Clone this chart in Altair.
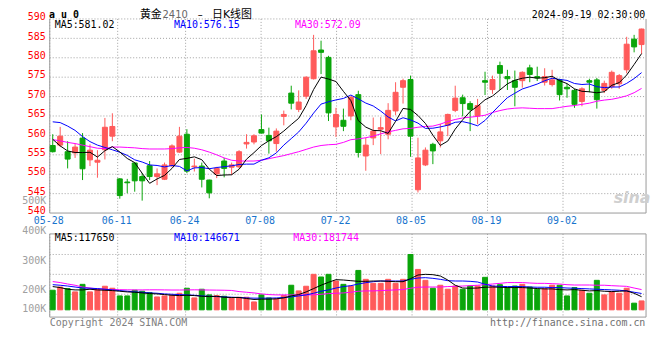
import altair as alt
import pandas as pd

# ---------------- data ----------------
opens = [557.4, 557.5, 555.8, 555.5, 559.3, 553.7, 553.1, 556.3, 559.8, 548.8,
         548.0, 552.9, 549.4, 552.2, 549.4, 548.7, 552.2, 555.7, 560.3, 551.9,
         552.1, 548.5, 550.1, 553.4, 551.8, 551.9, 557.8, 558.3, 561.5, 560.0,
         557.9, 564.9, 570.9, 566.7, 570.1, 574.6, 582.0, 580.1, 562.2, 563.9,
         565.0, 570.5, 554.7, 559.35, 561.6, 560.3, 566.3, 572.4, 574.4, 546.0,
         552.4, 557.7, 558.6, 562.6, 566.45, 569.7, 568.2, 565.0, 574.1, 571.8,
         578.0, 575.15, 574.1, 574.1, 577.4, 575.15, 573.7, 573.1, 574.3, 572.4,
         571.6, 568.75, 574.1, 574.3, 571.6, 572.6, 573.3, 576.9, 584.8, 583.4]
highs = [560.3, 562.2, 558.5, 557.9, 560.6, 557.7, 556.2, 564.5, 565.7, 549.0,
         548.8, 553.0, 550.3, 553.4, 551.5, 553.0, 557.7, 562.2, 561.6, 554.0,
         553.0, 548.6, 551.9, 554.2, 553.0, 556.2, 560.3, 560.3, 565.4, 562.0,
         561.8, 566.4, 572.8, 571.6, 575.2, 585.9, 584.4, 580.5, 567.1, 566.9,
         570.0, 571.5, 559.4, 564.6, 564.7, 568.3, 573.7, 574.6, 575.4, 559.4,
         556.9, 558.1, 563.0, 565.6, 572.8, 570.5, 568.8, 569.4, 576.4, 575.4,
         579.0, 576.9, 576.7, 576.5, 578.2, 577.7, 577.3, 576.9, 574.6, 573.3,
         572.0, 572.4, 574.6, 574.8, 574.1, 576.7, 575.8, 585.4, 585.9, 587.5]
lows = [555.6, 557.0, 551.5, 554.2, 548.5, 552.1, 549.1, 553.8, 558.5, 543.7,
        545.1, 545.5, 543.2, 548.5, 547.2, 548.5, 551.8, 555.5, 550.3, 550.7,
        546.6, 543.8, 549.0, 549.2, 549.8, 551.5, 556.6, 557.7, 560.5, 555.3,
        555.8, 562.6, 566.7, 566.0, 569.4, 574.4, 575.8, 563.7, 559.6, 561.1,
        563.9, 554.3, 550.9, 557.5, 555.2, 559.0, 565.2, 568.2, 554.5, 545.3,
        552.1, 552.6, 556.9, 559.8, 566.0, 564.9, 561.1, 562.9, 570.4, 570.7,
        571.7, 571.7, 567.5, 572.3, 573.7, 574.0, 572.85, 572.6, 569.0, 569.7,
        567.1, 567.5, 571.1, 566.9, 570.9, 572.0, 572.0, 576.0, 581.4, 581.0]
closes = [555.8, 559.8, 553.9, 557.0, 551.4, 556.2, 553.6, 562.1, 562.3, 544.5,
          547.8, 548.3, 548.3, 549.4, 550.1, 552.4, 557.3, 559.8, 550.8, 552.1,
          548.7, 545.2, 551.5, 551.5, 552.4, 555.8, 558.2, 559.9, 560.6, 558.6,
          561.1, 565.4, 568.3, 568.6, 575.0, 581.8, 581.4, 565.8, 565.4, 562.35,
          569.85, 555.6, 557.5, 561.1, 562.0, 566.45, 571.1, 574.1, 559.8, 554.2,
          556.2, 556.0, 560.9, 565.4, 569.6, 568.2, 566.7, 567.7, 573.7, 574.4,
          576.0, 574.6, 572.4, 576.25, 575.7, 574.8, 575.15, 574.3, 570.5, 572.0,
          568.0, 572.0, 573.7, 569.2, 573.4, 576.25, 575.4, 583.5, 582.8, 587.4]
ma5 = [559.0, 557.3, 556.0, 555.6, 555.58, 555.66, 554.42, 556.06, 557.12, 555.74,
       554.06, 553.0, 550.24, 547.66, 548.78, 549.7, 551.5, 553.8, 554.08, 554.48,
       553.74, 551.32, 549.66, 549.8, 549.86, 551.28, 553.88, 555.56, 557.38, 558.62,
       559.68, 561.12, 562.8, 564.4, 567.68, 571.82, 575.02, 574.52, 573.88, 571.35,
       568.96, 563.8, 562.14, 561.28, 561.21, 560.53, 563.63, 566.95, 566.69, 565.13,
       563.08, 560.06, 557.42, 558.54, 561.62, 564.02, 566.16, 567.52, 569.18, 570.14,
       571.7, 573.28, 574.22, 574.73, 574.99, 574.75, 574.86, 575.24, 574.09, 573.35,
       571.99, 571.36, 571.24, 570.98, 571.26, 572.91, 573.59, 575.55, 578.27, 581.07]
ma10 = [563.5, 563.3, 562.4, 561.3, 559.7, 558.4, 557.5, 556.9, 556.3, 555.66,
        554.86, 553.71, 553.15, 552.39, 552.26, 551.88, 552.25, 552.02, 550.87, 551.63,
        551.72, 551.41, 551.73, 551.94, 552.17, 552.51, 552.6, 552.61, 553.59, 554.24,
        555.48, 557.5, 559.18, 560.89, 563.15, 565.75, 568.07, 568.66, 569.14, 569.52,
        570.39, 569.41, 568.33, 567.58, 566.28, 564.75, 563.72, 564.55, 563.99, 563.17,
        561.81, 561.85, 562.19, 562.62, 563.38, 563.55, 563.11, 562.47, 563.86, 565.88,
        567.86, 569.72, 570.87, 571.96, 572.57, 573.23, 574.07, 574.73, 574.41, 574.17,
        573.37, 573.11, 573.24, 572.54, 572.31, 572.45, 572.48, 573.4, 574.63, 576.17]
ma30 = [558.9, 558.6, 558.2, 557.9, 557.5, 557.1, 556.7, 556.6, 557.0, 557.0,
        556.9, 556.8, 556.6, 556.5, 556.5, 556.5, 556.6, 556.8, 556.9, 556.7,
        556.3, 555.7, 555.0, 554.2, 553.6, 553.4, 553.4, 553.4, 553.6, 554.0,
        554.4, 554.8, 555.3, 555.8, 556.4, 557.0, 557.4, 557.6, 557.7, 558.2,
        558.9, 559.1, 559.4, 559.8, 560.4, 560.9, 561.3, 561.7, 561.8, 562.1,
        562.3, 562.4, 562.9, 563.6, 564.1, 564.5, 564.7, 564.9, 565.2, 565.9,
        566.4, 566.8, 567.0, 567.1, 567.0, 566.9, 566.9, 566.9, 567.2, 567.5,
        567.7, 568.0, 568.3, 568.8, 569.1, 569.3, 569.7, 570.2, 571.0, 572.1]
volumes = [176000, 205000, 191000, 161000, 229000, 161000, 185000, 212000, 194000, 125000,
           125000, 176000, 167000, 155000, 116000, 125000, 131000, 149000, 194000, 107000,
           185000, 134000, 128000, 122000, 107000, 113000, 113000, 71000, 134000, 107000,
           98000, 128000, 221000, 170000, 212000, 319000, 295000, 319000, 259000, 229000,
           214000, 354000, 274000, 238000, 238000, 274000, 238000, 274000, 497000, 363000,
           265000, 194000, 221000, 185000, 214000, 185000, 214000, 214000, 292000, 214000,
           226000, 200000, 214000, 229000, 205000, 185000, 191000, 221000, 221000, 125000,
           200000, 176000, 149000, 265000, 134000, 161000, 149000, 194000, 60000, 80000]
vma5 = [209000, 200000, 185000, 179000, 179000, 185000, 179000, 176000, 173000, 167000,
        161000, 158000, 152000, 146000, 143000, 137000, 131000, 128000, 131000, 128000,
        122000, 119000, 122000, 113000, 111000, 111000, 102000, 93000, 96000, 96000,
        99000, 107000, 125000, 137000, 161000, 191000, 221000, 247000, 271000, 268000,
        262000, 256000, 256000, 259000, 259000, 256000, 253000, 253000, 280000, 313000,
        319000, 316000, 304000, 268000, 221000, 196000, 194000, 196000, 203000, 205000,
        203000, 200000, 200000, 200000, 196000, 191000, 188000, 188000, 182000, 179000,
        182000, 176000, 170000, 173000, 167000, 164000, 167000, 170000, 149000, 118000]
vma10 = [226000, 221000, 214000, 205000, 196000, 194000, 191000, 185000, 179000, 173000,
         167000, 161000, 158000, 152000, 149000, 143000, 140000, 137000, 134000, 131000,
         125000, 122000, 119000, 116000, 113000, 111000, 107000, 105000, 105000, 105000,
         107000, 111000, 116000, 125000, 134000, 149000, 167000, 179000, 196000, 209000,
         217000, 232000, 244000, 253000, 259000, 259000, 259000, 259000, 274000, 286000,
         289000, 283000, 274000, 262000, 259000, 259000, 256000, 250000, 230000, 214000,
         211000, 209000, 209000, 209000, 205000, 203000, 203000, 200000, 200000, 196000,
         194000, 191000, 188000, 185000, 182000, 179000, 176000, 170000, 158000, 147000]
vma30 = [254000, 245000, 232000, 221000, 205000, 196000, 188000, 185000, 182000, 181000,
         180000, 179000, 179000, 180000, 180000, 179000, 178000, 178000, 179000, 180000,
         179000, 178000, 177000, 176000, 174000, 164000, 158000, 152000, 143000, 137000,
         134000, 134000, 134000, 134000, 134000, 135000, 140000, 146000, 149000, 152000,
         158000, 167000, 170000, 170000, 173000, 176000, 179000, 182000, 194000, 203000,
         205000, 205000, 205000, 209000, 211000, 214000, 217000, 221000, 226000, 232000,
         238000, 245000, 245000, 245000, 241000, 238000, 238000, 235000, 232000, 226000,
         223000, 223000, 223000, 221000, 221000, 217000, 214000, 211000, 196000, 182000]

tick_labels = ["05-28", "06-11", "06-24", "07-08", "07-22", "08-05", "08-19", "09-02"]
tick_index = [0, 9, 18, 28, 38, 48, 58, 68]
price_ticks = [540, 545, 550, 555, 560, 565, 570, 575, 580, 585, 590]
vol_tick_labels = ["500K", "400K", "300K", "200K", "100K"]

N = len(closes)
for arr in (opens, highs, lows, ma5, ma10, ma30, volumes, vma5, vma10, vma30):
    assert len(arr) == N, len(arr)

# ---------------- geometry / style ----------------
W, H = 600, 300
PRICE_BOTTOM = 195.3
VOL_TOP = 216.3
X_DOM = [-0.4, 79.6]
P_DOM = [513.2, 590.0]
V_DOM = [-65200, 2613400]
RED, GREEN = "#ff5a5a", "#0aa50a"
GRID, FRAME = "#a0a0a0", "#9a9a9a"
MONO = "DejaVu Sans Mono"
CJK = "DejaVu Sans, Noto Sans CJK SC"
HEAD_Y = -4.3

df = pd.DataFrame({
    "i": list(range(N)), "open": opens, "high": highs, "low": lows, "close": closes,
    "ma5": ma5, "ma10": ma10, "ma30": ma30,
    "vol": volumes, "vma5": vma5, "vma10": vma10, "vma30": vma30,
})
df["dir"] = ["up" if c >= o else "down" for o, c in zip(opens, closes)]

px_per_idx = W / (X_DOM[1] - X_DOM[0])
grid_step = W / (N - 1)
tick_df = pd.DataFrame({
    "label": tick_labels,
    "g": [X_DOM[0] + k * grid_step / px_per_idx for k in tick_index],
})

xs = alt.Scale(domain=X_DOM, nice=False, zero=False)
ps = alt.Scale(domain=P_DOM, nice=False, zero=False)
vs = alt.Scale(domain=V_DOM, nice=False, zero=False)
cs = alt.Scale(domain=["up", "down"], range=[RED, GREEN])

one = alt.Data(values=[{"k": 0}])


def hline(y, dashed=False, x1=0, x2=W):
    kw = dict(strokeWidth=1, color=GRID if dashed else FRAME)
    if dashed:
        kw["strokeDash"] = [1, 2]
    return alt.Chart(one).mark_rule(**kw).encode(
        x=alt.value(x1), x2=alt.value(x2), y=alt.value(y))


def vline(x, y1, y2):
    return alt.Chart(one).mark_rule(strokeWidth=1, color=FRAME).encode(
        x=alt.value(x), y=alt.value(y1), y2=alt.value(y2))


def txt(s, x, y, color="black", size=10, align="left", font=MONO, weight="normal", style="normal"):
    return alt.Chart(one).mark_text(
        text=s, align=align, baseline="middle", font=font, fontSize=size,
        color=color, fontWeight=weight, fontStyle=style,
    ).encode(x=alt.value(x), y=alt.value(y))


layers = []

# grid lines
layers.append(alt.Chart(pd.DataFrame({"p": price_ticks[1:]})).mark_rule(
    color=GRID, strokeDash=[1, 2], strokeWidth=1).encode(
    y=alt.Y("p:Q", scale=ps, axis=None), x=alt.value(0), x2=alt.value(W)))
for yv in (237, 257, 277):
    layers.append(hline(yv, dashed=True))
layers.append(alt.Chart(tick_df).mark_rule(color=GRID, strokeDash=[1, 2], strokeWidth=1).encode(
    x=alt.X("g:Q", scale=xs, axis=None), y=alt.value(0), y2=alt.value(PRICE_BOTTOM)))
layers.append(alt.Chart(tick_df).mark_rule(color=GRID, strokeDash=[1, 2], strokeWidth=1).encode(
    x=alt.X("g:Q", scale=xs, axis=None), y=alt.value(VOL_TOP), y2=alt.value(H)))

# frames
layers += [
    vline(0, 0, PRICE_BOTTOM), vline(W, 0, PRICE_BOTTOM), hline(PRICE_BOTTOM),
    vline(0, VOL_TOP, H), vline(W, VOL_TOP, H), hline(VOL_TOP), hline(H),
]

base = alt.Chart(df)
xenc = alt.X("i:Q", scale=xs, axis=None)

# candles
layers.append(base.mark_rule(strokeWidth=1).encode(
    x=xenc, y=alt.Y("low:Q", scale=ps, axis=None), y2="high:Q",
    color=alt.Color("dir:N", scale=cs, legend=None)))
layers.append(base.transform_calculate(
    xl="datum.i - 0.3333", xr="datum.i + 0.3333").mark_rect(strokeWidth=1).encode(
    x=alt.X("xl:Q", scale=xs, axis=None), x2="xr:Q",
    y=alt.Y("open:Q", scale=ps, axis=None), y2="close:Q",
    fill=alt.Fill("dir:N", scale=cs, legend=None),
    stroke=alt.Stroke("dir:N", scale=cs, legend=None)))

# price MAs
for fld, col in (("ma30", "#ff00ff"), ("ma10", "#0000ff"), ("ma5", "#000000")):
    layers.append(base.mark_line(color=col, strokeWidth=1).encode(
        x=xenc, y=alt.Y(f"{fld}:Q", scale=ps, axis=None)))

# volume bars
layers.append(base.transform_calculate(
    xl="datum.i - 0.3333", xr="datum.i + 0.3333").mark_rect(strokeWidth=1).encode(
    x=alt.X("xl:Q", scale=xs, axis=None), x2="xr:Q",
    y=alt.Y("vol:Q", scale=vs, axis=None), y2=alt.datum(0),
    fill=alt.Fill("dir:N", scale=cs, legend=None),
    stroke=alt.Stroke("dir:N", scale=cs, legend=None)))
for fld, col in (("vma30", "#ff00ff"), ("vma10", "#0000ff"), ("vma5", "#000000")):
    layers.append(base.mark_line(color=col, strokeWidth=1).encode(
        x=xenc, y=alt.Y(f"{fld}:Q", scale=vs, axis=None)))

# axis labels
layers.append(alt.Chart(pd.DataFrame({"p": price_ticks})).mark_text(
    align="right", baseline="middle", dy=-1.8, font=MONO, fontSize=10, color="#ff0000").encode(
    y=alt.Y("p:Q", scale=ps, axis=None), x=alt.value(-4), text="p:Q"))
layers.append(alt.Chart(tick_df).mark_text(
    align="center", baseline="middle", dx=-1, font=MONO, fontSize=10, color="#1874cd").encode(
    x=alt.X("g:Q", scale=xs, axis=None), y=alt.value(203.5), text="label:N"))
for lab, yv in zip(vol_tick_labels, (183.5, 213, 243.7, 272.8, 292.3)):
    layers.append(txt(lab, -3.5, yv, color="#a0a0a0", align="right"))

# header texts
layers += [
    txt("a u 0", -0.7, HEAD_Y, weight="bold"),
    txt("黄金", 90.7, -4.0, font=CJK, size=11),
    txt("2410", 113.5, HEAD_Y, font="DejaVu Sans", size=10, color="#666666"),
    txt("–", 151.5, HEAD_Y, font="DejaVu Sans", size=10, align="center"),
    txt("日K线图", 163.3, -4.0, font=CJK, size=11),
    txt("2024-09-19 02:30:00", 599.3, HEAD_Y, align="right"),
    txt("MA5:581.02", 5, 5.7),
    txt("MA10:576.15", 125, 5.7, color="#0000ff"),
    txt("MA30:572.09", 246.7, 5.7, color="#ff00ff"),
    txt("MA5:117650", 5, 220.5),
    txt("MA10:146671", 125, 220.5, color="#0000ff"),
    txt("MA30:181744", 245, 220.5, color="#ff00ff"),
    txt("Copyright 2024 SINA.COM", 0, 305.7, color="#808080"),
    txt("http://finance.sina.com.cn", 599.3, 305.7, color="#707070", align="right"),
    txt("sina", 586, 180, color="#cfcfcf", size=16, align="center",
        font="DejaVu Sans", weight="bold", style="italic"),
]

chart = alt.layer(*layers).resolve_scale(y="independent").properties(
    width=W, height=H,
    autosize=alt.AutoSizeParams(type="none"),
    padding={"left": 42, "top": 10, "right": 6, "bottom": 16},
).configure_view(strokeWidth=0)

chart.save("out.html", embed_options={"renderer": "svg", "actions": False})
